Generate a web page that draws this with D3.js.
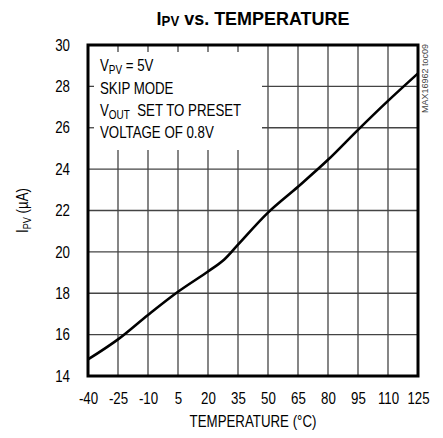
<!DOCTYPE html>
<html><head><meta charset="utf-8">
<script src="https://cdn.jsdelivr.net/npm/d3@7/dist/d3.min.js"></script>
<style>
html,body{margin:0;padding:0;background:#fff;}
svg{display:block;}
text{font-family:"Liberation Sans",Arial,sans-serif;}
</style></head>
<body>
<svg id="chart" width="443" height="438"></svg>
<script>
const temperature = [-40, -25, -10, 5, 20, 28, 35, 50, 65, 80, 95, 110, 125];
const ipv = [14.8, 15.77, 16.95, 18.07, 19.05, 19.62, 20.35, 21.9, 23.15, 24.45, 25.9, 27.3, 28.63];
const xTicks = [-40, -25, -10, 5, 20, 35, 50, 65, 80, 95, 110, 125];
const yTicks = [14, 16, 18, 20, 22, 24, 26, 28, 30];
const notes = [["V", "PV", " = 5V"], ["SKIP MODE", "", ""], ["V", "OUT", "  SET TO PRESET"], ["VOLTAGE OF 0.8V", "", ""]];

const W = 443, H = 438;
const m = {left: 88, right: 25, top: 45, bottom: 62};
const svg = d3.select("#chart");
const x = d3.scaleLinear().domain([-40, 125]).range([m.left, W - m.right]);
const y = d3.scaleLinear().domain([14, 30]).range([H - m.bottom, m.top]);
const NARROW = 0.83;
function condense(sel, f) {
  sel.each(function () {
    const L = this.getComputedTextLength();
    d3.select(this).attr("textLength", L * f).attr("lengthAdjust", "spacingAndGlyphs");
  });
}

const g = svg.append("g");
const gridColor = "#444", gridW = 1.3;
g.selectAll(".vg").data(xTicks.slice(1, -1)).join("line")
  .attr("x1", d => x(d)).attr("x2", d => x(d))
  .attr("y1", y(30)).attr("y2", y(14))
  .attr("stroke", gridColor).attr("stroke-width", gridW);
g.selectAll(".hg").data(yTicks.slice(1, -1)).join("line")
  .attr("y1", d => y(d)).attr("y2", d => y(d))
  .attr("x1", x(-40)).attr("x2", x(125))
  .attr("stroke", gridColor).attr("stroke-width", gridW);

// annotation box (white) covering grid
const boxR = 262, boxB = 150;
g.append("rect").attr("x", x(-40) + 1).attr("y", y(30) + 1)
  .attr("width", boxR - x(-40) - 1).attr("height", boxB - y(30) - 1).attr("fill", "#fff");
g.selectAll(".vs").data(xTicks.filter(d => x(d) > x(-40) && x(d) < boxR)).join("line")
  .attr("x1", d => x(d)).attr("x2", d => x(d))
  .attr("y1", y(30)).attr("y2", y(30) + 7)
  .attr("stroke", gridColor).attr("stroke-width", gridW);
g.selectAll(".hs").data(yTicks.filter(d => y(d) < boxB && y(d) > y(30))).join("line")
  .attr("y1", d => y(d)).attr("y2", d => y(d))
  .attr("x1", x(-40)).attr("x2", x(-40) + 6)
  .attr("stroke", gridColor).attr("stroke-width", gridW);

// border
g.append("rect").attr("x", x(-40)).attr("y", y(30))
  .attr("width", x(125) - x(-40)).attr("height", y(14) - y(30))
  .attr("fill", "none").attr("stroke", "#000").attr("stroke-width", 3);

// curve
const line = d3.line().x((d, i) => x(temperature[i])).y(d => y(d)).curve(d3.curveCatmullRom.alpha(0.5));
g.append("path").datum(ipv).attr("d", line)
  .attr("fill", "none").attr("stroke", "#000").attr("stroke-width", 2.6).attr("stroke-linejoin", "round");

// axes labels
const xa = svg.append("g").attr("transform", `translate(0,${y(14)})`)
  .call(d3.axisBottom(x).tickValues(xTicks).tickSize(0).tickPadding(17).tickFormat(d => String(d)));
xa.select(".domain").remove();
xa.selectAll("text").attr("font-size", 16).attr("fill", "#000").attr("font-family", '"Liberation Sans",Arial,sans-serif');
condense(xa.selectAll("text"), NARROW);
const ya = svg.append("g").attr("transform", `translate(${x(-40)},0)`)
  .call(d3.axisLeft(y).tickValues(yTicks).tickSize(0).tickPadding(18).tickFormat(d => String(d)));
ya.select(".domain").remove();
ya.selectAll("text").attr("font-size", 16).attr("fill", "#000").attr("font-family", '"Liberation Sans",Arial,sans-serif');
condense(ya.selectAll("text"), NARROW);

const xt = svg.append("text").attr("x", (x(-40) + x(125)) / 2).attr("y", 427)
  .attr("text-anchor", "middle").attr("font-size", 16).text("TEMPERATURE (°C)");
condense(xt, NARROW);

const yl = svg.append("text")
  .attr("transform", `translate(28,${(y(14) + y(30)) / 2}) rotate(-90) scale(${NARROW},1)`)
  .attr("text-anchor", "middle").attr("font-size", 16);
yl.append("tspan").text("I");
yl.append("tspan").attr("font-size", 11).attr("dy", 3).text("PV");
yl.append("tspan").attr("dy", -3).text(" (µA)");

// title
const tx0 = 253;
const t = svg.append("text").attr("x", tx0).attr("y", 25).attr("text-anchor", "middle")
  .attr("font-size", 19).attr("font-weight", "bold");
t.append("tspan").text("I");
t.append("tspan").attr("font-size", 14).attr("dy", 1.5).text("PV");
t.append("tspan").attr("dy", -1.5).text(" vs. TEMPERATURE");
const tw = t.node().getComputedTextLength();
const ts = 193 / tw;
t.attr("transform", `translate(${tx0},0) scale(${ts},1) translate(${-tx0},0)`);

// notes
const nb = [71, 94, 116, 138];
notes.forEach((n, i) => {
  const tx = svg.append("text").attr("x", 100).attr("y", nb[i]).attr("font-size", 16)
    .attr("xml:space", "preserve")
    .attr("transform", `translate(100,0) scale(${NARROW},1) translate(-100,0)`);
  tx.append("tspan").text(n[0]);
  if (n[1]) {
    tx.append("tspan").attr("font-size", 12).attr("dy", 3).text(n[1]);
    tx.append("tspan").attr("dy", -3).text(n[2]);
  }
});

// side code
svg.append("text").attr("transform", `translate(428,113) rotate(-90)`)
  .attr("font-size", 9).attr("fill", "#444").text("MAX16962 toc09");
</script>
</body></html>
